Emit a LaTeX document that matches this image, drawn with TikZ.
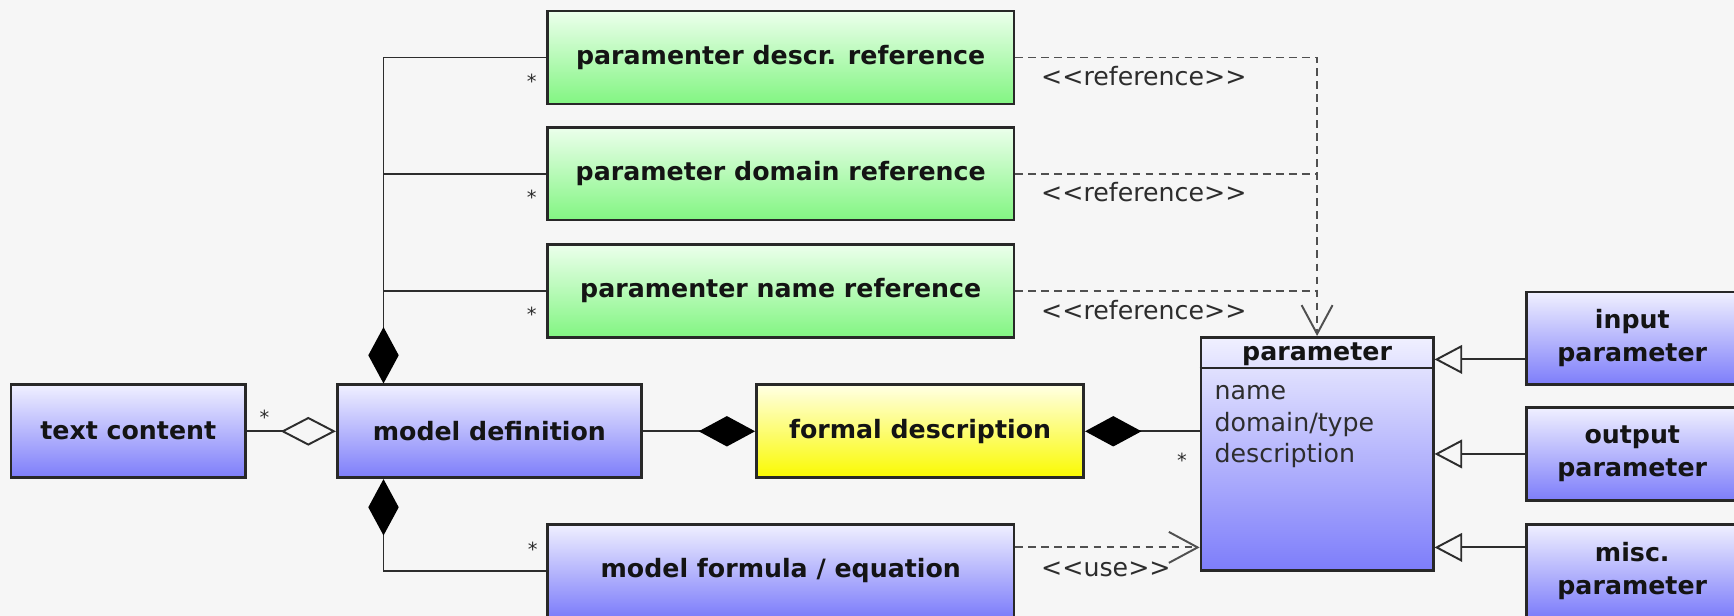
\documentclass[tikz,border=0pt]{standalone}
\usepackage{fontspec}
\setmainfont{DejaVu Sans}
\usepackage{tikz}
\usetikzlibrary{arrows.meta,calc,positioning}

\definecolor{bgpaper}{RGB}{246,246,246}
\definecolor{ink}{RGB}{20,20,20}
\definecolor{soft}{RGB}{45,45,45}
\definecolor{dashgray}{RGB}{80,80,80}
\definecolor{boxline}{RGB}{40,40,40}
\definecolor{bluetop}{RGB}{240,240,255}
\definecolor{bluebot}{RGB}{125,125,250}
\definecolor{greentop}{RGB}{236,255,236}
\definecolor{greenbot}{RGB}{130,245,130}
\definecolor{yellowtop}{RGB}{255,255,228}
\definecolor{yellowbot}{RGB}{250,250,0}

% stereotype text, kern keeps << from turning into a guillemet
\newcommand{\umlstereo}[1]{<\kern0pt<#1>\kern0pt>}

\begin{document}
\begin{tikzpicture}[
x=0.02cm, y=-0.02cm,
font=\fontsize{13}{16}\selectfont,
box/.style={draw=boxline, line width=1.4pt, inner sep=0pt, text=ink,
  align=center, font=\fontsize{13}{17}\selectfont\bfseries},
bluebox/.style={box, top color=bluetop, bottom color=bluebot},
greenbox/.style={box, top color=greentop, bottom color=greenbot,
  minimum width=8.44cm, minimum height=1.68cm},
yellowbox/.style={box, top color=yellowtop, bottom color=yellowbot},
line/.style={draw=soft, line width=1pt},
dline/.style={draw=dashgray, line width=1pt, dash pattern=on 4pt off 2.7pt},
comp/.style={line, -{Diamond[length=1.02cm, width=0.55cm, color=black]}},
aggr/.style={line, -{Diamond[open, length=1cm, width=0.52cm]}},
dep/.style={dline, -{Straight Barb[length=0.52cm, width=0.56cm]}},
gen/.style={line, -{Triangle[open, length=0.5cm, width=0.52cm]}},
mult/.style={inner sep=0pt, text=soft, font=\fontsize{10}{11}\selectfont},
stereo/.style={inner sep=0pt, anchor=west, text=soft}]

    % page and paper
    \useasboundingbox (0,0) rectangle (1568,557);
    \fill[bgpaper] (0,0) rectangle (1568,557);

    % reference boxes
    \node[greenbox] (descr)   at (706,52)  {paramenter descr. reference};
    \node[greenbox] (domain)  at (706,157) {parameter domain reference};
    \node[greenbox] (nameref) at (706,263) {paramenter name reference};

    % middle row
    \node[bluebox, minimum width=4.24cm, minimum height=1.68cm] (textc)
        at (116,390) {text content};
    \node[bluebox, minimum width=5.5cm, minimum height=1.68cm] (modeldef)
        at (442.5,390) {model definition};
    \node[yellowbox, minimum width=5.92cm, minimum height=1.68cm] (formal)
        at (832,390) {formal description};
    \node[bluebox, minimum width=8.44cm, minimum height=1.68cm] (formula)
        at (706,516) {model formula / equation};

    % parameter class
    \node[bluebox, minimum width=4.2cm, minimum height=4.22cm] (param)
        at (1191,410.5) {};
    \node[inner sep=0pt, text=ink, font=\fontsize{13}{16}\selectfont\bfseries] (ptitle)
        at (1191,320) {parameter};
    \draw[boxline, line width=1.4pt] ($(param.north west)+(0,29)$)
        -- ($(param.north east)+(0,29)$);
    \foreach \attr [count=\i] in {name, domain/type, description}
        \node[inner sep=0pt, text=soft, anchor=base west] (attr\i)
            at (1098,333+28.5*\i) {\attr};

    % subclasses
    \node[bluebox, minimum width=3.84cm, minimum height=1.68cm] (input)
        at (1476,306) {input\\parameter};
    \node[bluebox, minimum width=3.84cm, minimum height=1.68cm] (output)
        at (1476,410.5) {output\\parameter};
    \node[bluebox, minimum width=3.84cm, minimum height=1.68cm] (misc)
        at (1476,516) {misc.\\parameter};

    % aggregation and compositions round model definition
    \draw[aggr] (textc) -- (modeldef);
    \node[mult] (s5) at ($(textc.east)+(16,-13)$) {*};

    \coordinate (mdtop) at ($(modeldef.north west)+(43,0)$);
    \coordinate (mdbot) at ($(modeldef.south west)+(43,0)$);
    \draw[comp] (descr.west) -| (mdtop);
    \draw[line] (domain.west) -- (domain.west -| mdtop);
    \draw[line] (nameref.west) -- (nameref.west -| mdtop);
    \draw[comp] (formula.west) -| (mdbot);
    \node[mult] (s1) at ($(descr.west)+(-13,21.5)$) {*};
    \node[mult] (s2) at ($(domain.west)+(-13,21.5)$) {*};
    \node[mult] (s3) at ($(nameref.west)+(-13,21.5)$) {*};
    \node[mult] (s4) at ($(formula.west)+(-12,-19)$) {*};

    \draw[comp] (modeldef) -- (formal);
    \draw[comp] (param.west |- formal.east) -- (formal.east);
    \node[mult] (s6) at ($(param.west |- formal.east)+(-16,26)$) {*};

    % references to the parameter
    \draw[dep] (descr.east) -| (param.north);
    \draw[dline] (domain.east) -- (domain.east -| param.north);
    \draw[dline] (nameref.east) -- (nameref.east -| param.north);
    \node[stereo] (r1) at ($(descr.east)+(23,17)$) {\umlstereo{reference}};
    \node[stereo] (r2) at ($(domain.east)+(23,17)$) {\umlstereo{reference}};
    \node[stereo] (r3) at ($(nameref.east)+(23,17)$) {\umlstereo{reference}};

    \coordinate (useL) at ($(formula.east)+(0,-21)$);
    \draw[dep] (useL) -- (useL -| param.west);
    \node[stereo] (r4) at ($(formula.east)+(23,-1)$) {\umlstereo{use}};

    % generalisations
    \coordinate (inL) at ($(input.west)+(0,19)$);
    \coordinate (miscL) at ($(misc.west)+(0,-21)$);
    \draw[gen] (inL) -- (inL -| param.east);
    \draw[gen] (output.west) -- (output.west -| param.east);
    \draw[gen] (miscL) -- (miscL -| param.east);
\end{tikzpicture}
\end{document}
